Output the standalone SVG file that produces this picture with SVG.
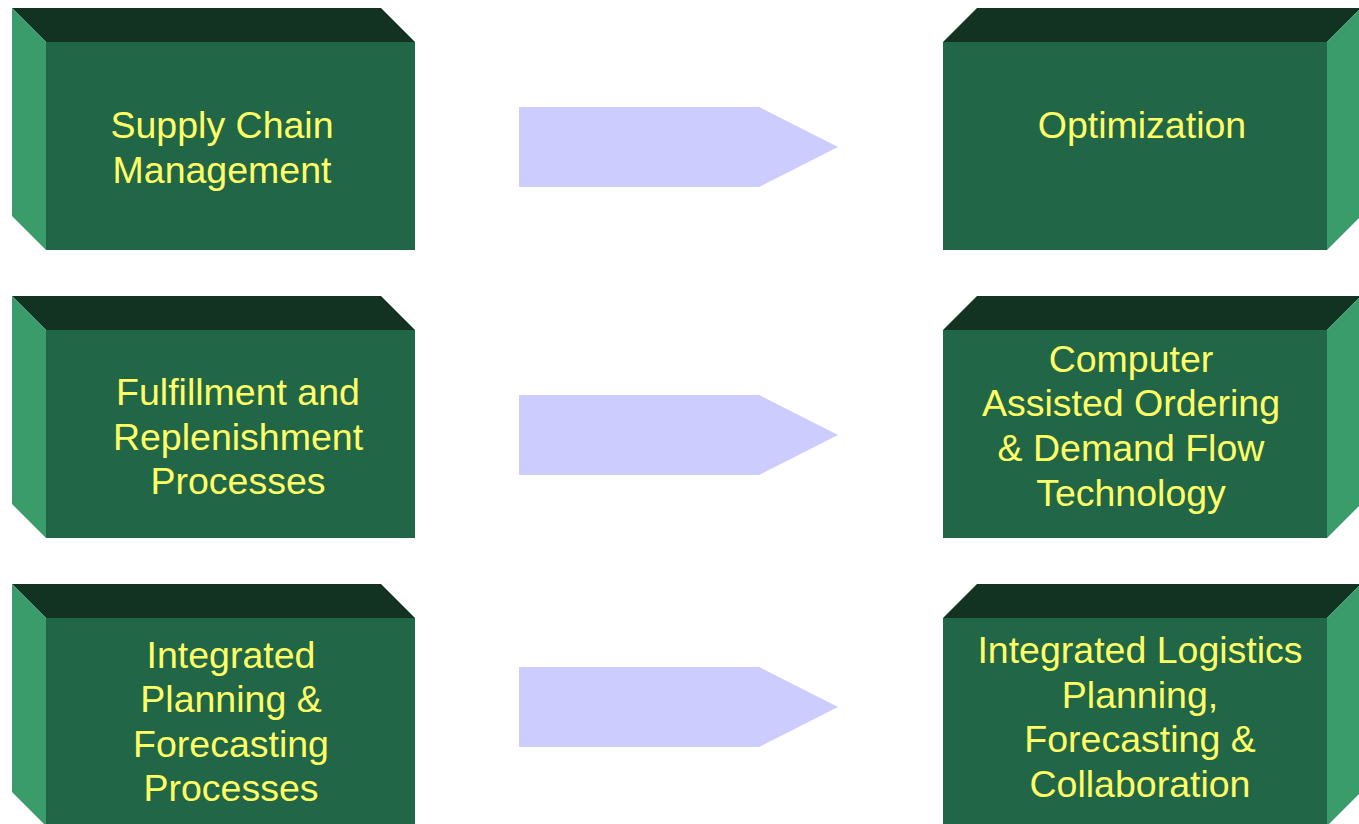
<svg xmlns="http://www.w3.org/2000/svg" width="1359" height="824" viewBox="0 0 1359 824">
<defs>
<style>
.top{fill:#133322}
.front{fill:#226648}
.side{fill:#3a9c6b}
.arrow{fill:#ccccff}
.lbl{font-family:"Liberation Sans",Arial,sans-serif;font-size:37.5px;fill:#ffff66;text-anchor:middle}
</style>
</defs>
<rect width="1359" height="824" fill="#ffffff"/>
<g id="connectors">
<polygon class="arrow" points="519,107 759,107 838,147 759,187 519,187"/>
<polygon class="arrow" points="519,395 759,395 838,435 759,475 519,475"/>
<polygon class="arrow" points="519,667 759,667 838,707 759,747 519,747"/>
</g>
<g id="node-scm">
<polygon class="top" points="12,8 381,8 415,42 46,42"/>
<polygon class="side" points="12,8 46,42 46,250 12,216"/>
<rect class="front" x="46" y="42" width="369" height="208"/>
<text class="lbl" x="222" y="138">Supply Chain</text>
<text class="lbl" x="222" y="183">Management</text>
</g>
<g id="node-fulfillment">
<polygon class="top" points="12,296 381,296 415,330 46,330"/>
<polygon class="side" points="12,296 46,330 46,538 12,504"/>
<rect class="front" x="46" y="330" width="369" height="208"/>
<text class="lbl" x="238" y="405">Fulfillment and</text>
<text class="lbl" x="238" y="450">Replenishment</text>
<text class="lbl" x="238" y="494">Processes</text>
</g>
<g id="node-planning">
<polygon class="top" points="12,584 381,584 415,618 46,618"/>
<polygon class="side" points="12,584 46,618 46,826 12,792"/>
<rect class="front" x="46" y="618" width="369" height="208"/>
<text class="lbl" x="231" y="668">Integrated</text>
<text class="lbl" x="231" y="712">Planning &amp;</text>
<text class="lbl" x="231" y="757">Forecasting</text>
<text class="lbl" x="231" y="801">Processes</text>
</g>
<g id="node-optimization">
<polygon class="top" points="977,8 1361,8 1327,42 943,42"/>
<polygon class="side" points="1327,42 1361,8 1361,216 1327,250"/>
<rect class="front" x="943" y="42" width="384" height="208"/>
<text class="lbl" x="1142" y="138">Optimization</text>
</g>
<g id="node-cao">
<polygon class="top" points="977,296 1361,296 1327,330 943,330"/>
<polygon class="side" points="1327,330 1361,296 1361,504 1327,538"/>
<rect class="front" x="943" y="330" width="384" height="208"/>
<text class="lbl" x="1131" y="372">Computer</text>
<text class="lbl" x="1131" y="416">Assisted Ordering</text>
<text class="lbl" x="1131" y="461">&amp; Demand Flow</text>
<text class="lbl" x="1131" y="506">Technology</text>
</g>
<g id="node-logistics">
<polygon class="top" points="977,584 1361,584 1327,618 943,618"/>
<polygon class="side" points="1327,618 1361,584 1361,792 1327,826"/>
<rect class="front" x="943" y="618" width="384" height="208"/>
<text class="lbl" x="1140" y="663">Integrated Logistics</text>
<text class="lbl" x="1140" y="708">Planning,</text>
<text class="lbl" x="1140" y="752">Forecasting &amp;</text>
<text class="lbl" x="1140" y="797">Collaboration</text>
</g>
</svg>
